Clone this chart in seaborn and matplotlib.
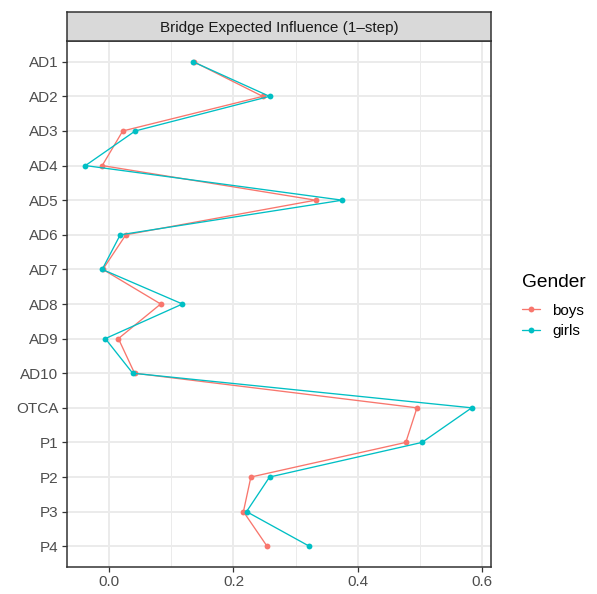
import matplotlib
matplotlib.use("Agg")
import matplotlib.pyplot as plt
import seaborn as sns
import pandas as pd
from matplotlib.lines import Line2D
from matplotlib.ticker import MultipleLocator

nodes = ["AD1", "AD2", "AD3", "AD4", "AD5", "AD6", "AD7", "AD8", "AD9", "AD10",
         "OTCA", "P1", "P2", "P3", "P4"]
boys = [0.136, 0.247, 0.022, -0.011, 0.332, 0.027, -0.010, 0.083, 0.015, 0.041,
        0.495, 0.477, 0.228, 0.216, 0.254]
girls = [0.135, 0.258, 0.042, -0.038, 0.375, 0.018, -0.011, 0.118, -0.006, 0.038,
         0.583, 0.503, 0.258, 0.221, 0.322]
genders = ["boys", "girls"]
colors = {"boys": "#F8766D", "girls": "#00BFC4"}
strip_title = "Bridge Expected Influence (1\u2013step)"
legend_title = "Gender"

df = pd.concat([
    pd.DataFrame({"node": nodes, "value": boys, "Gender": "boys"}),
    pd.DataFrame({"node": nodes, "value": girls, "Gender": "girls"}),
])

sns.set_style("white")
plt.rcParams["font.family"] = ["Liberation Sans", "DejaVu Sans"]

W, H = 597, 594
fig = plt.figure(figsize=(W / 100, H / 100), dpi=100)
ax = fig.add_axes([67 / W, 1 - 567 / H, (491 - 67) / W, (567 - 41) / H])

sns.pointplot(data=df, x="value", y="node", hue="Gender", order=nodes,
              hue_order=genders, palette=colors, orient="h", dodge=False,
              errorbar=None, markers="o", linestyles="-", markersize=4.2,
              linewidth=0.95, ax=ax, legend=False, markeredgewidth=0)

n = len(nodes)
ax.set_ylim(n - 1 + 0.6, -0.6)
ax.set_xlim(-0.0676, 0.614)
ax.xaxis.set_minor_locator(MultipleLocator(0.1))
ax.set_xticks([0.0, 0.2, 0.4, 0.6])
ax.set_xticklabels(["0.0", "0.2", "0.4", "0.6"])
ax.grid(True, which="major", color="#EBEBEB", linewidth=1.4, zorder=0)
ax.grid(True, which="minor", axis="x", color="#EBEBEB", linewidth=0.7, zorder=0)
ax.set_axisbelow(True)
ax.set_xlabel("")
ax.set_ylabel("")
for s in ax.spines.values():
    s.set_color("#333333")
    s.set_linewidth(1.1)
ax.tick_params(axis="both", which="major", left=True, bottom=True, length=3.6,
               width=0.9, color="#333333", labelcolor="#4D4D4D", labelsize=11,
               pad=2.5)
ax.tick_params(axis="x", which="minor", bottom=False, length=0)

# facet strip
strip = fig.add_axes([67 / W, 1 - 41 / H, (491 - 67) / W, 29 / H])
strip.set_xticks([])
strip.set_yticks([])
strip.set_facecolor("#D9D9D9")
for s in strip.spines.values():
    s.set_color("#333333")
    s.set_linewidth(1.1)
strip.text(0.5, 0.45, strip_title, ha="center", va="center", fontsize=11,
           color="#1A1A1A", transform=strip.transAxes)

# legend (placed in figure pixels like ggplot's guide box)
fig.text(522 / W, 1 - 287 / H, legend_title, fontsize=13.75, color="black",
         ha="left", va="baseline")
for i, g in enumerate(genders):
    yy = 1 - (309 + 21 * i) / H
    fig.add_artist(Line2D([522 / W, 540 / W], [yy, yy], color=colors[g],
                          linewidth=0.95, transform=fig.transFigure))
    fig.add_artist(Line2D([531 / W], [yy], color=colors[g], marker="o",
                          markersize=4.2, markeredgewidth=0,
                          transform=fig.transFigure))
    fig.text(552 / W, yy, g, fontsize=11, color="black", ha="left",
             va="center_baseline")

fig.savefig("out.png", dpi=100, facecolor="white")
